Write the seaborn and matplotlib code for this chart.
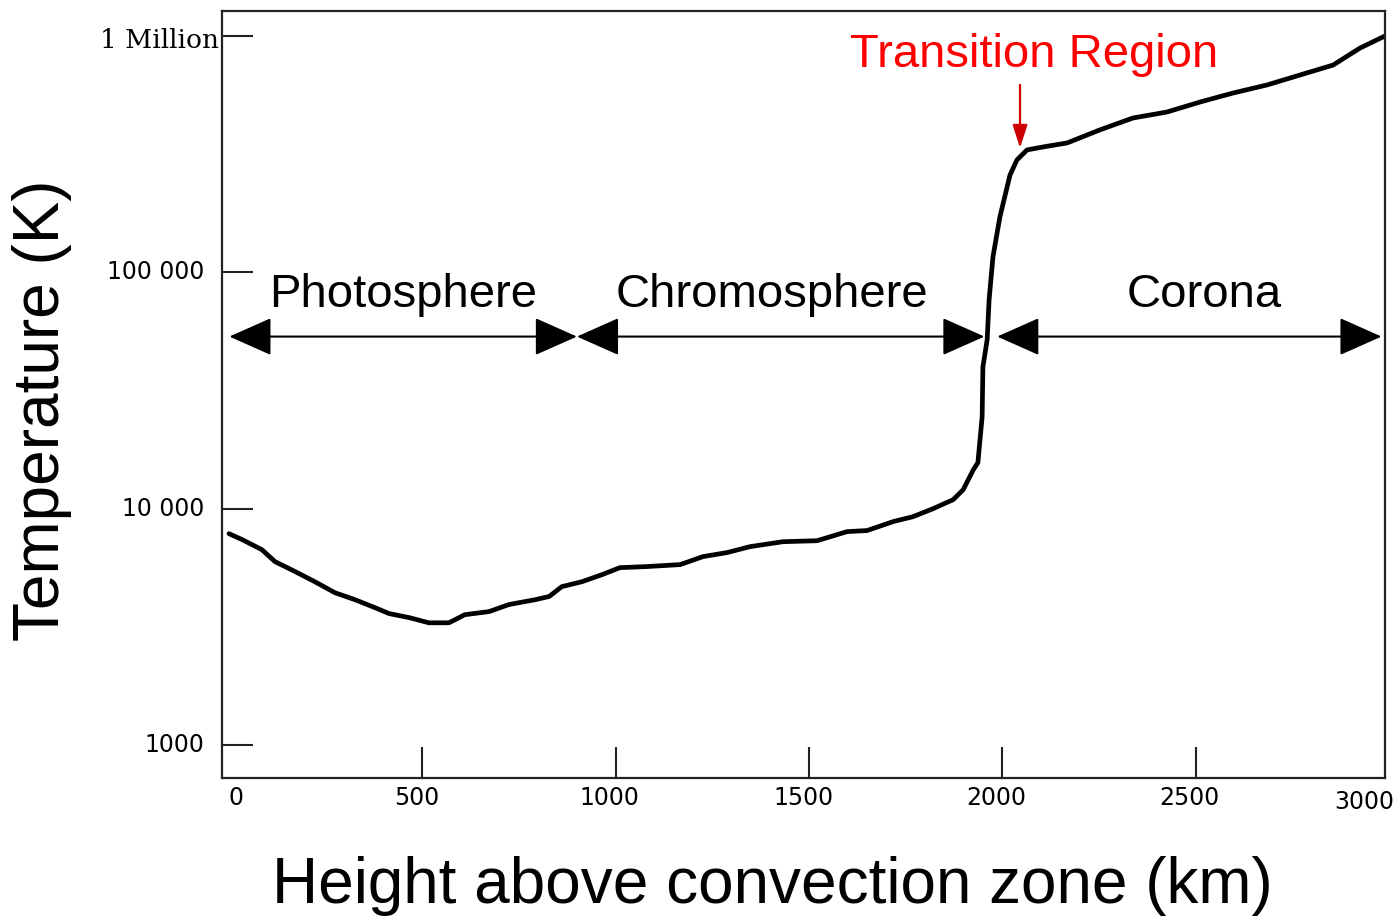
import numpy as np
import pandas as pd
import matplotlib
matplotlib.use("Agg")
import matplotlib.pyplot as plt
import seaborn as sns

# ── Data ──────────────────────────────────────────────────────
height_km = [0, 34, 85, 119, 171, 222, 274, 326, 378, 414, 466, 517, 569,
             610, 673, 724, 792, 828, 861, 913, 965, 1011, 1081, 1167, 1226,
             1288, 1348, 1433, 1521, 1599, 1650, 1718, 1769, 1821, 1873,
             1899, 1925, 1937, 1948, 1950, 1961, 1966, 1976, 1994, 2020,
             2038, 2064, 2106, 2168, 2253, 2338, 2426, 2512, 2597, 2685,
             2770, 2856, 2925, 2995]
temperature_k = [7840, 7400, 6710, 5970, 5420, 4910, 4410, 4120, 3810, 3600,
                 3460, 3290, 3290, 3560, 3670, 3930, 4120, 4250, 4680, 4910,
                 5260, 5630, 5690, 5800, 6270, 6520, 6910, 7250, 7320, 8000,
                 8080, 8820, 9250, 10000, 10920, 12030, 14600, 15660, 24500,
                 39800, 51900, 76500, 116400, 171800, 258000, 299000, 329700,
                 339500, 353000, 401000, 450000, 477000, 526000, 574000,
                 621000, 684000, 754000, 889000, 1010000]

y_ticks = [1e3, 1e4, 1e5, 1e6]
y_tick_labels = ["1000", "10 000", "100 000", "1 Million"]
x_ticks = [500, 1000, 1500, 2000, 2500]
x_label_values = [0, 500, 1000, 1500, 2000, 2500, 3000]
x_tick_labels = ["0", "500", "1000", "1500", "2000", "2500", "3000"]

# region arrows: (label, start km, end km, label x km)
regions = [("Photosphere", 1, 900, 450),
           ("Chromosphere", 900, 1954, 1405),
           ("Corona", 1987, 2981, 2522)]
region_arrow_T = 53500
region_label_T = 80000

df = pd.DataFrame({"height": height_km, "temp": temperature_k})

sns.set_theme(style="white")
plt.rcParams["font.family"] = ["Liberation Sans", "DejaVu Sans"]
plt.rcParams["text.color"] = "black"
plt.rcParams["axes.labelcolor"] = "black"

fig = plt.figure(figsize=(13.99, 9.19), dpi=100)
ax = fig.add_axes([0.1587, 0.1534, 0.8313, 0.8346])

sns.lineplot(data=df, x="height", y="temp", color="black", lw=3.4, ax=ax,
             estimator=None, sort=False)

ax.set_yscale("log")
ax.set_xlim(-18, 2990)
ax.set_ylim(725, 1.276e6)
ax.minorticks_off()

# ── Ticks (marks inside, labels drawn by hand) ────────────────
ax.set_yticks(y_ticks)
ax.set_yticklabels([])
ax.set_xticks(x_ticks)
ax.set_xticklabels([])
ax.tick_params(axis="both", direction="in", length=22, width=1.5,
               color="#222222", left=True, bottom=True)

ytr = ax.get_yaxis_transform()
for v, lab in zip(y_ticks, y_tick_labels):
    if lab == "1 Million":
        ax.text(-0.003, v * 0.96, lab, transform=ytr, ha="right", va="center",
                fontsize=19, family="DejaVu Serif")
    else:
        ax.text(-0.015, v, lab, transform=ytr, ha="right", va="center",
                fontsize=17, family="DejaVu Sans")

xtr = ax.get_xaxis_transform()
for v, lab in zip(x_label_values, x_tick_labels):
    if v == 0:
        ax.text(v, -0.01, lab, transform=xtr, ha="left", va="top",
                fontsize=17, family="DejaVu Sans")
    elif v == 3000:
        ax.text(1.008, -0.016, lab, transform=ax.transAxes, ha="right",
                va="top", fontsize=17, family="DejaVu Sans")
    else:
        ax.text(v - 15, -0.01, lab, transform=xtr, ha="center", va="top",
                fontsize=17, family="DejaVu Sans")

for sp in ax.spines.values():
    sp.set_linewidth(1.6)
    sp.set_color("#222222")

ax.set_xlabel("Height above convection zone (km)", fontsize=46, va="center")
ax.xaxis.set_label_coords(0.5518, 0.036, transform=fig.transFigure)
ax.set_ylabel("Temperature (K)", fontsize=46, va="center")
ax.yaxis.set_label_coords(0.030, 0.554, transform=fig.transFigure)

# ── Region arrows ─────────────────────────────────────────────
for name, x0, x1, xl in regions:
    ax.annotate("", xy=(x0, region_arrow_T), xytext=(x1, region_arrow_T),
                arrowprops=dict(arrowstyle="<|-|>,head_length=2.7,head_width=1.2",
                                color="black", lw=1.5, mutation_scale=10,
                                shrinkA=0, shrinkB=0))
    ax.text(xl, region_label_T, name, ha="center", va="center", fontsize=34)

# ── Transition region ─────────────────────────────────────────
ax.annotate("", xy=(2046, 336000), xytext=(2046, 621000),
            arrowprops=dict(arrowstyle="-|>,head_length=1.4,head_width=0.45",
                            color="#cc0000", lw=1.6, mutation_scale=10,
                            shrinkA=0, shrinkB=0))
ax.text(2083, 830000, "Transition Region", ha="center", va="center",
        fontsize=34, color="#ff0000")

fig.savefig("out.png", dpi=100)
